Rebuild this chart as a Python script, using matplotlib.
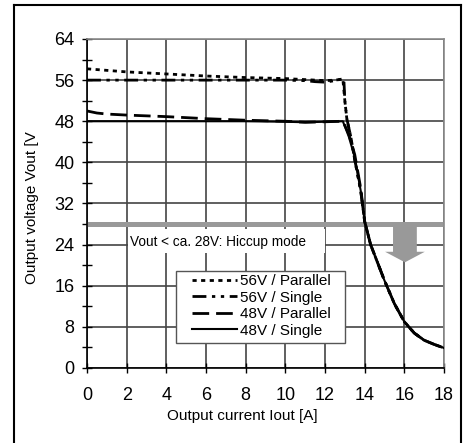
import matplotlib
matplotlib.use("Agg")
import matplotlib.pyplot as plt
from matplotlib.lines import Line2D
from matplotlib.patches import Rectangle, FancyArrow

plt.rcParams['font.family'] = ['Liberation Sans', 'DejaVu Sans']

# ---- data ----
tail_x = [14.0, 14.3, 14.6, 15.0, 15.5, 16.0, 16.5, 17.0, 17.5, 18.0]
tail_y = [28.5, 24.0, 21.0, 17.0, 12.5, 9.0, 6.8, 5.4, 4.6, 3.9]

p56_x = [0, 1, 2, 4, 6, 8, 10, 11, 12, 12.5, 12.9, 13.0, 13.1, 13.3, 13.5, 13.8] + tail_x
p56_y = [58.2, 57.9, 57.6, 57.2, 56.8, 56.5, 56.3, 56.1, 55.9, 56.0, 56.2, 52.0, 48.5, 45.0, 40.5, 34.5] + tail_y

s56_x = [0, 2, 4, 6, 8, 10, 11, 11.5, 12, 12.5, 12.95, 13.0, 13.1, 13.3, 13.5, 13.8] + tail_x
s56_y = [56.0, 56.0, 56.0, 56.0, 56.0, 56.0, 55.9, 55.7, 55.6, 55.9, 56.3, 52.0, 48.5, 45.0, 40.5, 34.5] + tail_y

p48_x = [0, 0.5, 1, 2, 4, 6, 8, 10, 11, 12, 12.9, 13.2, 13.5, 13.8] + tail_x
p48_y = [50.0, 49.6, 49.4, 49.2, 48.9, 48.5, 48.2, 48.0, 47.8, 47.9, 48.0, 45.5, 41.5, 35.0] + tail_y

s48_x = [0, 2, 4, 6, 8, 10, 11, 12, 12.9, 13.2, 13.5, 13.8] + tail_x
s48_y = [48.0, 48.0, 48.0, 48.0, 48.0, 47.9, 47.8, 47.9, 48.0, 45.0, 41.0, 34.5] + tail_y

labels = ['56V / Parallel', '56V / Single', '48V / Parallel', '48V / Single']
x_ticks = list(range(0, 19, 2))
y_major = list(range(0, 65, 8))
y_minor = list(range(4, 64, 8))
hiccup_v = 28
hiccup_text = 'Vout < ca. 28V: Hiccup mode'

# ---- figure ----
fig = plt.figure(figsize=(4.64, 4.43), dpi=100)
ax = fig.add_axes([87/464, 1-368/443, 357/464, 329/443])

# outer border (left, top, right)
for xs, ys in [([14/464, 14/464], [0, 1-4.5/443]),
               ([14/464, 461.5/464], [1-4.5/443, 1-4.5/443]),
               ([461.5/464, 461.5/464], [0, 1-4.5/443])]:
    fig.add_artist(Line2D(xs, ys, transform=fig.transFigure, color='black', lw=1.5))

ax.set_xlim(0, 18)
ax.set_ylim(0, 64)
ax.set_xticks(x_ticks)
ax.set_yticks(y_major)
ax.set_yticks(y_minor, minor=True)
ax.grid(True, which='major', color='#444444', lw=1.2, zorder=0)
ax.set_axisbelow(True)

ax.tick_params(axis='both', which='both', direction='inout', color='black', width=1.0,
               labelsize=13)
ax.tick_params(axis='y', which='both', length=7, pad=5.5)
ax.tick_params(axis='x', which='major', length=6.5, pad=10.5)

for s in ['left', 'bottom']:
    ax.spines[s].set_color('black')
    ax.spines[s].set_linewidth(1.2)
for s in ['top', 'right']:
    ax.spines[s].set_color('#8a8a8a')
    ax.spines[s].set_linewidth(1.2)

# hiccup band and annotation
ax.axhline(hiccup_v, color='#999999', lw=3.6, zorder=2)
ax.add_patch(Rectangle((2.05, 22.4), 9.95, 4.7, facecolor='white', edgecolor='none', zorder=2.5))
ax.text(2.17, 24.6, hiccup_text, fontsize=9.8, va='center', ha='left', zorder=3)
ax.add_patch(FancyArrow(16.03, hiccup_v, 0, -7.44, width=1.2, head_width=2.0,
                        head_length=2.05, length_includes_head=True,
                        facecolor='#999999', edgecolor='none', zorder=2))

# curves
lw = 2.0
ax.plot(p56_x, p56_y, color='black', lw=lw, dashes=(1.5, 1.6), label=labels[0], zorder=4)
ax.plot(s56_x, s56_y, color='black', lw=lw, dashes=(5, 2, 1.2, 2, 1.2, 2), label=labels[1], zorder=4)
ax.plot(p48_x, p48_y, color='black', lw=lw, dashes=(6, 2.5), label=labels[2], zorder=4)
ax.plot(s48_x, s48_y, color='black', lw=1.5, label=labels[3], zorder=4)

# legend: frame drawn separately for exact padding
ax.add_patch(Rectangle((0.249, 0.076), 0.474, 0.219, transform=ax.transAxes,
                       facecolor='white', edgecolor='#555555', lw=1.0, zorder=5))
leg = ax.legend(loc='center left', bbox_to_anchor=(0.294, 0.1884), fontsize=11,
                frameon=False, handlelength=2.95, handletextpad=0.2,
                labelspacing=0.16, borderpad=0, borderaxespad=0)
leg.set_zorder(6)

ax.set_xlabel('Output current Iout [A]', fontsize=11)
ax.xaxis.set_label_coords(0.434, -0.124)
fig.text(32/464, 1-208/443, 'Output voltage Vout [V', rotation=90, fontsize=11,
         ha='center', va='center')

fig.savefig('out.png', dpi=100)
